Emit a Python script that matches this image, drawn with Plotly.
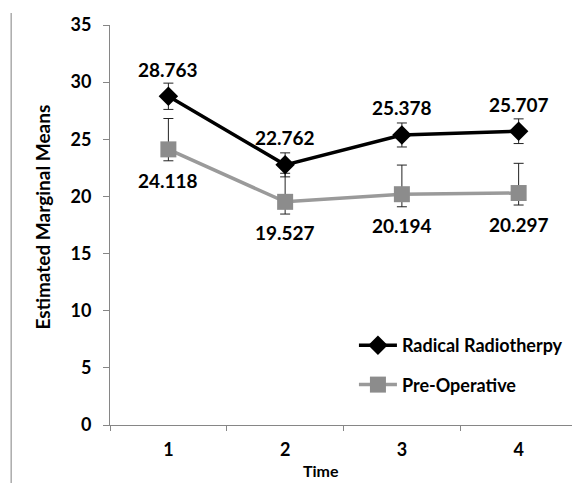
import plotly.graph_objects as go

times = ["1", "2", "3", "4"]
radical = [28.763, 22.762, 25.378, 25.707]
radical_err = [1.15, 1.05, 1.05, 1.08]
preop = [24.118, 19.527, 20.194, 20.297]
preop_err_plus = [2.7, 2.5, 2.55, 2.6]
preop_err_minus = [1.0, 1.07, 1.1, 1.05]
y_ticks = [0, 5, 10, 15, 20, 25, 30, 35]

FONT = "Lato"
fig = go.Figure()
fig.add_trace(go.Scatter(
    x=times, y=preop, name="Pre-Operative", mode="lines+markers",
    line=dict(color="#9a9a9a", width=3.5),
    marker=dict(symbol="square", size=16, color="#8c8c8c"),
    error_y=dict(type="data", symmetric=False, array=preop_err_plus, arrayminus=preop_err_minus,
                 color="#222222", thickness=1, width=5),
    legendgroup="b", legendrank=2,
))
fig.add_trace(go.Scatter(
    x=times, y=radical, name="Radical Radiotherpy", mode="lines+markers",
    line=dict(color="#000000", width=3.5),
    marker=dict(symbol="diamond", size=15, color="#000000"),
    error_y=dict(type="data", array=radical_err, color="#222222", thickness=1, width=5),
    legendgroup="a", legendrank=1,
))
bold = dict(family=FONT, size=19, color="#000", weight="bold")
for i, yv in enumerate(radical):
    fig.add_annotation(x=i, y=yv, text=f"{yv:.3f}", showarrow=False, yshift=27, font=bold)
for i, yv in enumerate(preop):
    fig.add_annotation(x=i, y=yv, text=f"{yv:.3f}", showarrow=False, yshift=-31, font=bold)

# axis titles as annotations (paper coords)
fig.add_annotation(xref="paper", yref="paper", x=-0.147, y=0.519, text="Estimated Marginal Means",
                   textangle=-90, showarrow=False, xanchor="center", yanchor="middle",
                   font=dict(family=FONT, size=19, color="#000", weight="bold"))
fig.add_annotation(xref="paper", yref="paper", x=0.457, y=-0.113, text="Time",
                   showarrow=False, xanchor="center", yanchor="middle",
                   font=dict(family=FONT, size=16, color="#000", weight="bold"))

fig.add_shape(type="line", xref="paper", yref="paper", x0=-0.214, x1=-0.214, y0=-0.2, y1=1.03,
              line=dict(color="#808080", width=1))

fig.update_layout(
    width=572, height=483, plot_bgcolor="white", paper_bgcolor="white",
    margin=dict(l=110, r=0, t=25, b=58),
    font=dict(family=FONT, size=16, color="#000"),
    showlegend=True,
    legend=dict(x=0.528, y=0.245, xanchor="left", yanchor="top", bgcolor="rgba(0,0,0,0)",
                font=dict(family=FONT, size=18, color="#000", weight="bold"), tracegroupgap=13,
                traceorder="grouped", itemwidth=38),
    xaxis=dict(type="category", range=[-0.5, 3.457], tickson="boundaries", ticks="outside", ticklen=5,
               tickcolor="#868686", showline=True, linecolor="#868686", linewidth=1,
               showgrid=False, automargin=False, ticklabelstandoff=8,
               tickfont=dict(family=FONT, size=18, weight="bold")),
    yaxis=dict(range=[0, 35], tickvals=y_ticks, ticks="outside", ticklen=6,
               tickcolor="#868686", showline=True, linecolor="#868686", linewidth=1,
               showgrid=False, zeroline=False, automargin=False, ticklabelstandoff=8,
               tickfont=dict(family=FONT, size=18, weight="bold")),
)
fig.write_html("out.html", config={"displayModeBar": False},
               post_script="document.body.style.margin='0px';")
